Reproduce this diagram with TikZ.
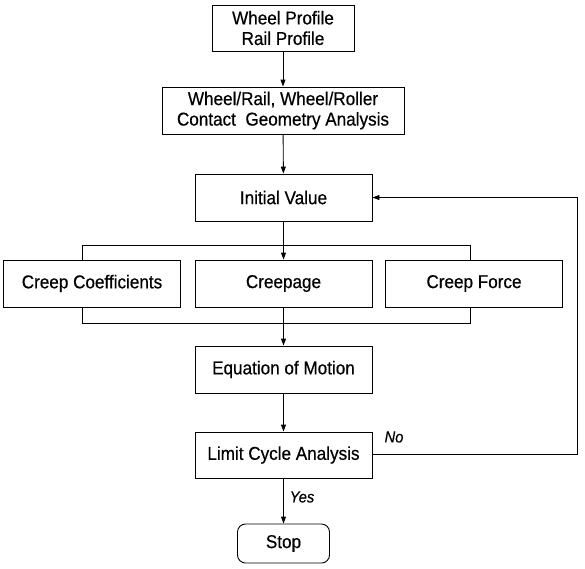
\documentclass[tikz,border=0pt]{standalone}
\usepackage{fontspec}
\setmainfont{Liberation Sans}[FakeStretch=0.92, FakeBold=0.5]
\usetikzlibrary{arrows.meta}
\usetikzlibrary{calc}

\begin{document}
\begin{tikzpicture}[x=1pt, y=-1pt, line width=0.9pt,
        box/.style={rectangle, draw=black, inner sep=0pt, align=center,
            minimum width=177pt, minimum height=47pt,
            font=\fontsize{18.6}{20.5}\selectfont},
        arr/.style={-{Triangle[length=7pt, width=5pt]}},
        lbl/.style={font=\fontsize{16}{18}\selectfont\itshape, inner sep=0pt}]
            \useasboundingbox (0, 0) rectangle (585, 568);
            \node[box, minimum width=142pt, minimum height=46pt] (prof) at (283, 28) {Wheel Profile\\Rail Profile};
            \node[box, minimum width=242pt] (geom) at (283, 110.5) {Wheel/Rail, Wheel/Roller\\Contact\ \ Geometry Analysis};
            \node[box] (init) at (283.5, 197.5) {Initial Value};
            \foreach \name/\x/\txt in {coef/92/Creep Coefficients, creepage/283.5/Creepage, force/474/Creep Force}
            {
                \node[box] (\name) at (\x, 283.5) {\txt};
            }
            \node[box] (motion) at (283.5, 369.5) {Equation of Motion};
            \node[box, minimum height=46pt] (limit) at (283.5, 455) {Limit Cycle Analysis};
            \node[box, minimum width=92pt, minimum height=39pt, rounded corners=8pt] (stop) at (283.5, 543.5) {Stop};
            % bracket and feedback corners
            \coordinate (tl) at (82, 245);
            \coordinate (tr) at (470, 245);
            \coordinate (bl) at (82, 323);
            \coordinate (br) at (470, 323);
            \coordinate (fb) at (577, 454);
            \draw[arr] (prof) -- (geom);
            \draw[arr] (geom) -- (init);
            \draw[arr] (init) -- (creepage);
            \draw (coef.north -| tl) -- (tl) -- (tr) -- (force.north -| tr);
            \draw (coef.south -| bl) -- (bl) -- (br) -- (force.south -| br);
            \draw[arr] (creepage) -- (motion);
            \draw[arr] (motion) -- (limit);
            \draw[arr] (limit) -- (stop);
            \draw[arr] (limit.east |- fb) -- (fb) |- (init.east);
            \node[lbl] (no) at (394, 437) {No};
            \node[lbl] (yes) at (302, 497) {Yes};
        \end{tikzpicture}
\end{document}
